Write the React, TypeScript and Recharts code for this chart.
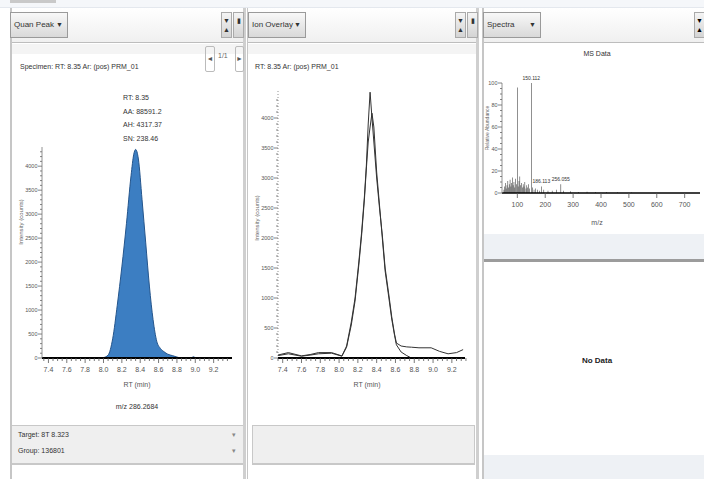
import React from 'react';
import { AreaChart, Area, LineChart, Line, ComposedChart, Bar, LabelList, XAxis, YAxis } from 'recharts';

// retention time axis (min)
const rtTicks = [7.4, 7.6, 7.8, 8.0, 8.2, 8.4, 8.6, 8.8, 9.0, 9.2];
const intensityTicks = [0, 500, 1000, 1500, 2000, 2500, 3000, 3500, 4000];

// quan peak (left panel)
const quanRt = [7.33, 7.6, 7.9, 8.0, 8.05, 8.1, 8.15, 8.2, 8.25, 8.3, 8.33, 8.35, 8.38, 8.42, 8.46, 8.5, 8.54, 8.58, 8.62, 8.66, 8.7, 8.75, 8.8, 8.85, 8.95, 8.98, 9.01, 9.1, 9.4];
const quanIntensity = [0, 0, 0, 10, 60, 400, 1100, 1900, 2800, 3800, 4250, 4350, 4150, 3300, 2400, 1500, 800, 350, 200, 130, 80, 50, 20, 0, 0, 25, 0, 0, 0];

// ion overlay (middle panel)
const overlayRt = [7.35, 7.46, 7.6, 7.7, 7.78, 7.92, 8.03, 8.08, 8.13, 8.17, 8.21, 8.24, 8.27, 8.29, 8.31, 8.33, 8.35, 8.37, 8.4, 8.43, 8.46, 8.49, 8.53, 8.56, 8.59, 8.61, 8.66, 8.72, 8.77, 8.85, 8.98, 9.07, 9.16, 9.25, 9.32];
const overlayIonA = [50, 90, 35, 60, 90, 90, 35, 200, 600, 1000, 1600, 2100, 2700, 3200, 3900, 4430, 4000, 3600, 3000, 2500, 2050, 1500, 1050, 690, 400, 250, 200, 185, 180, 170, 170, 110, 70, 90, 140];
const overlayIonB = [40, 70, 30, 50, 70, 80, 30, 180, 550, 950, 1550, 2050, 2650, 3150, 3600, 3850, 4080, 3850, 3100, 2550, 2000, 1450, 1000, 650, 380, 220, 100, 40, 0, 0, 0, 0, 0, 0, 0];

// spectrum (right panel)
const mzTicks = [100, 200, 300, 400, 500, 600, 700];
const abundTicks = [0, 20, 40, 60, 80, 100];
const specMz = [52, 55, 57, 60, 63, 66, 69, 71, 74, 77, 79, 82, 85, 88, 91, 94, 97, 100.08, 103, 106, 109, 112, 115, 118, 121, 124, 127, 131, 134, 137, 141, 144, 150.11, 155, 160, 165, 172, 180, 186.11, 195, 210, 225, 240, 256.06, 265, 290, 320, 350, 380, 420, 460, 510];
const specAbund = [3, 6, 9, 4, 7, 11, 5, 8, 12, 6, 9, 14, 7, 10, 5, 13, 8, 96, 6, 11, 15, 7, 9, 5, 8, 6, 10, 4, 7, 5, 8, 4, 100, 5, 3, 4, 3, 2, 6, 3, 2, 2, 3, 8, 2, 1.5, 1, 1.2, 0.8, 1, 0.6, 0.5];
const specLabels: Record<number, string> = { 150.11: '150.112', 186.11: '186.113', 256.06: '256.055' };

const font = '"Liberation Sans", Arial, sans-serif';

const quanData = quanRt.map((rt, i) => ({ rt, v: quanIntensity[i] }));
const overlayData = overlayRt.map((rt, i) => ({ rt, a: overlayIonA[i], b: overlayIonB[i] }));
const specData = specMz.map((mz, i) => ({ mz, ab: specAbund[i], lbl: specLabels[mz] }));

function minorTicks(from: number, to: number, step: number) {
  const out: number[] = [];
  for (let v = from; v <= to + 1e-9; v += step) out.push(Math.round(v * 1000) / 1000);
  return out;
}

const rtAllTicks = minorTicks(7.35, 9.35, 0.05);
const intAllTicks = minorTicks(0, 4300, 100);

const isMajor = (list: number[], v: number) => list.some((m) => Math.abs(m - v) < 1e-6);

function XTick(props: any) {
  const { x, y, payload, majors, fmt } = props;
  const major = isMajor(majors, payload.value);
  return (
    <g>
      <line x1={x} x2={x} y1={y} y2={y + (major ? 5 : 3)} stroke="#555" strokeWidth={0.8} />
      {major && (
        <text x={x} y={y + 14} textAnchor="middle" fontSize={7} fill="#555" fontFamily={font}>
          {fmt(payload.value)}
        </text>
      )}
    </g>
  );
}

function YTick(props: any) {
  const { x, y, payload, majors, size = 5.5 } = props;
  const major = isMajor(majors, payload.value);
  return (
    <g>
      <line x1={x} x2={x - (major ? 4 : 2)} y1={y} y2={y} stroke="#666" strokeWidth={0.8} />
      {major && (
        <text x={x - 4.5} y={y + 2} textAnchor="end" fontSize={size} fill="#555" fontFamily={font}>
          {payload.value}
        </text>
      )}
    </g>
  );
}

const abs = (left: number, top: number, width: number, height: number, extra: React.CSSProperties = {}): React.CSSProperties => ({
  position: 'absolute', left, top, width, height, boxSizing: 'border-box', ...extra,
});

function Dropdown({ left, label }: { left: number; label: string }) {
  return (
    <div style={abs(left, 12, 58, 26, {
      border: '1px solid #9a9a9a', background: 'linear-gradient(#f8f8f8, #d9d9d9)',
      fontSize: 8, lineHeight: '24px', paddingLeft: 3, color: '#333',
    })}>
      {label}
      <span style={{ position: 'absolute', right: 4, top: 0, fontSize: 7 }}>▼</span>
    </div>
  );
}

function HeaderButtons({ left }: { left: number }) {
  const b: React.CSSProperties = {
    border: '1px solid #aaa', background: 'linear-gradient(#f4f4f4, #d4d4d4)', fontSize: 7,
    color: '#333', textAlign: 'center', lineHeight: '9px', paddingTop: 3,
  };
  return (
    <>
      <div style={abs(left, 12, 11, 26, b)}>▼<br />▲</div>
      <div style={abs(left + 12, 12, 11, 26, b)}>▮</div>
    </>
  );
}

function VerticalLabel({ cx, cy, text, size }: { cx: number; cy: number; text: string; size: number }) {
  return (
    <div style={abs(cx - 50, cy - 5, 100, 10, {
      fontSize: size, color: '#666', fontFamily: font, whiteSpace: 'nowrap', textAlign: 'center',
      lineHeight: '10px', transform: 'rotate(-90deg)',
    })}>{text}</div>
  );
}

const small: React.CSSProperties = { fontSize: 7, color: '#333', fontFamily: font, whiteSpace: 'nowrap' };

export default function App() {
  return (
    <div style={{ position: 'fixed', left: 0, top: 0, width: 704, height: 479, background: '#ffffff', fontFamily: font, overflow: 'hidden' }}>
      {/* window strip */}
      <div style={abs(0, 0, 704, 8, { background: '#f5f7fa', borderBottom: '1px solid #e4e8ee' })} />
      <div style={abs(10, 0, 46, 3, { background: '#c9c9c9' })} />

      {/* ---------- panel 1 : quan peak ---------- */}
      <div style={abs(10, 8, 236, 471, { borderLeft: '2px solid #c6c6c6', borderRight: '3px solid #cfcfcf' })} />
      <div style={abs(12, 8, 231, 35, { background: 'linear-gradient(#ffffff, #f0f0f0)', borderBottom: '1px solid #bdbdbd' })} />
      <Dropdown left={10} label="Quan Peak" />
      <HeaderButtons left={221} />
      <div style={abs(12, 44, 231, 10, { background: '#f4f4f4' })} />
      <div style={abs(205, 46, 10, 26, { border: '1px solid #bbb', borderRadius: 2, fontSize: 7, textAlign: 'center', lineHeight: '24px', color: '#555' })}>◄</div>
      <div style={abs(218, 52, 14, 12, { ...small, color: '#666' })}>1/1</div>
      <div style={abs(235, 46, 9, 26, { border: '1px solid #bbb', borderRadius: 2, fontSize: 7, textAlign: 'center', lineHeight: '24px', color: '#555' })}>►</div>
      <div style={abs(20, 63, 180, 10, small)}>Specimen: RT: 8.35 Ar: (pos) PRM_01</div>
      <div style={abs(123, 91, 60, 56, { ...small, lineHeight: '13.5px' })}>
        RT: 8.35<br />AA: 88591.2<br />AH: 4317.37<br />SN: 238.46
      </div>
      <VerticalLabel cx={21} cy={222} text="Intensity (counts)" size={6} />
      <div style={abs(10, 137, 235, 243)}>
        <AreaChart width={235} height={243} data={quanData} margin={{ top: 10, right: 13, bottom: 0, left: 0 }}>
          <XAxis dataKey="rt" type="number" domain={[7.33, 9.4]} ticks={rtAllTicks} interval={0} height={22}
            axisLine={{ stroke: '#000', strokeWidth: 2 }} tickLine={false} tickSize={0} tickMargin={0}
            tick={<XTick majors={rtTicks} fmt={(v: number) => v.toFixed(1)} />} />
          <YAxis type="number" domain={[0, 4400]} ticks={intAllTicks} interval={0} width={32}
            axisLine={{ stroke: '#777', strokeWidth: 0.8 }} tickLine={false} tickSize={0} tickMargin={0}
            tick={<YTick majors={intensityTicks} />} />
          <Area type="monotone" dataKey="v" stroke="#24558c" strokeWidth={1} fill="#3c7ec2" fillOpacity={1} isAnimationActive={false} />
        </AreaChart>
      </div>
      <div style={abs(107, 381, 60, 10, { ...small, textAlign: 'center', color: '#555' })}>RT (min)</div>
      <div style={abs(97, 403, 80, 10, { ...small, textAlign: 'center', color: '#333' })}>m/z 286.2684</div>
      <div style={abs(12, 425, 231, 40, { background: '#efefef', borderTop: '1px solid #c8c8c8', borderBottom: '2px solid #c8c8c8' })}>
        <div style={abs(6, 5, 120, 12, small)}>Target: 8T 8.323</div>
        <div style={abs(6, 21, 120, 12, small)}>Group: 136801</div>
        <div style={abs(220, 5, 8, 12, { ...small, color: '#888' })}>▾</div>
        <div style={abs(220, 21, 8, 12, { ...small, color: '#888' })}>▾</div>
      </div>

      {/* ---------- panel 2 : ion overlay ---------- */}
      <div style={abs(247, 8, 232, 471, { borderLeft: '1px solid #c6c6c6', borderRight: '3px solid #cfcfcf' })} />
      <div style={abs(248, 8, 228, 35, { background: 'linear-gradient(#ffffff, #f0f0f0)', borderBottom: '1px solid #bdbdbd' })} />
      <Dropdown left={248} label="Ion Overlay" />
      <HeaderButtons left={455} />
      <div style={abs(248, 44, 228, 10, { background: '#f4f4f4' })} />
      <div style={abs(255, 63, 180, 10, small)}>RT: 8.35 Ar: (pos) PRM_01</div>
      <VerticalLabel cx={257} cy={218} text="Intensity (counts)" size={6} />
      <div style={abs(248, 81, 230, 299)}>
        <LineChart width={230} height={299} data={overlayData} margin={{ top: 10, right: 13, bottom: 0, left: 0 }}>
          <XAxis dataKey="rt" type="number" domain={[7.35, 9.34]} ticks={rtAllTicks} interval={0} height={22}
            axisLine={{ stroke: '#000', strokeWidth: 2 }} tickLine={false} tickSize={0} tickMargin={0}
            tick={<XTick majors={rtTicks} fmt={(v: number) => v.toFixed(1)} />} />
          <YAxis type="number" domain={[0, 4450]} ticks={intAllTicks} interval={0} width={30}
            axisLine={{ stroke: '#777', strokeWidth: 0.8, strokeDasharray: '1 2' }} tickLine={false} tickSize={0} tickMargin={0}
            tick={<YTick majors={intensityTicks} />} />
          <Line type="linear" dataKey="b" stroke="#333" strokeWidth={1} dot={false} isAnimationActive={false} />
          <Line type="linear" dataKey="a" stroke="#333" strokeWidth={1} dot={false} isAnimationActive={false} />
        </LineChart>
      </div>
      <div style={abs(337, 381, 60, 10, { ...small, textAlign: 'center', color: '#555' })}>RT (min)</div>
      <div style={abs(252, 425, 223, 40, { background: '#efefef', border: '1px solid #c8c8c8', borderBottomWidth: 2 })} />

      {/* ---------- panel 3 : spectrum ---------- */}
      <div style={abs(482, 8, 222, 471, { borderLeft: '2px solid #c6c6c6' })} />
      <div style={abs(484, 8, 220, 35, { background: 'linear-gradient(#ffffff, #f0f0f0)', borderBottom: '1px solid #bdbdbd' })} />
      <Dropdown left={483} label="Spectra" />
      <div style={abs(694, 12, 11, 26, { border: '1px solid #aaa', background: 'linear-gradient(#f4f4f4, #d4d4d4)', fontSize: 7, lineHeight: '9px', paddingTop: 3, textAlign: 'center' })}>▼<br />▲</div>
      <div style={abs(567, 50, 60, 10, { ...small, textAlign: 'center' })}>MS Data</div>
      <VerticalLabel cx={487} cy={128} text="Relative Abundance" size={5} />
      <div style={abs(482, 63, 222, 150)}>
        <ComposedChart width={222} height={150} data={specData} margin={{ top: 20, right: 4, bottom: 0, left: 0 }}>
          <XAxis dataKey="mz" type="number" domain={[45, 755]} ticks={mzTicks} interval={0} height={20}
            axisLine={{ stroke: '#000', strokeWidth: 1.5 }} tickLine={false} tickSize={0} tickMargin={0}
            tick={<XTick majors={mzTicks} fmt={(v: number) => String(v)} />} />
          <YAxis type="number" domain={[0, 100]} ticks={minorTicks(0, 100, 5)} interval={0} width={20}
            axisLine={{ stroke: '#777', strokeWidth: 0.8 }} tickLine={false} tickSize={0} tickMargin={0}
            tick={<YTick majors={abundTicks} />} />
          <Bar dataKey="ab" barSize={1} fill="#222" isAnimationActive={false}>
            <LabelList dataKey="lbl" position="top" offset={3} style={{ fontSize: 5, fill: '#333', fontFamily: font }} />
          </Bar>
        </ComposedChart>
      </div>
      <div style={abs(577, 219, 40, 10, { ...small, textAlign: 'center', color: '#555' })}>m/z</div>
      <div style={abs(484, 234, 220, 28, { background: '#eef1f5', borderBottom: '3px solid #9c9c9c' })} />
      <div style={abs(557, 356, 80, 12, { fontSize: 8, fontWeight: 'bold', textAlign: 'center', color: '#222' })}>No Data</div>
      <div style={abs(484, 455, 220, 24, { background: '#eef1f5' })} />
    </div>
  );
}
